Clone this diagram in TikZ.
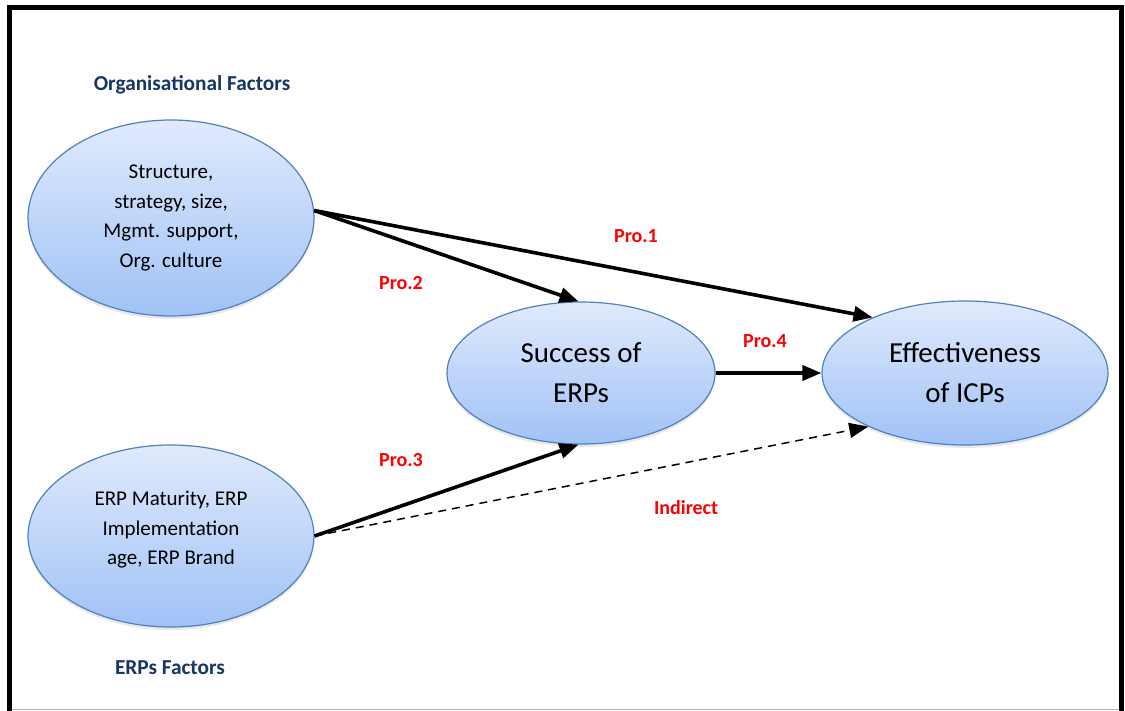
\documentclass[tikz,border=0pt]{standalone}
\usepackage{fontspec}
\setmainfont{Carlito}
\usetikzlibrary{shapes.geometric,arrows.meta,shadows}

\definecolor{ovalborder}{RGB}{79,129,189}
\definecolor{ovaltop}{RGB}{224,234,252}
\definecolor{ovalbottom}{RGB}{160,194,246}
\definecolor{headnavy}{RGB}{23,54,100}
\definecolor{prored}{RGB}{255,0,0}

\tikzset{
  oval/.style={ellipse, draw=ovalborder, line width=1.2pt, inner sep=0pt,
    top color=ovaltop, bottom color=ovalbottom, align=center,
    drop shadow={opacity=0.18, shadow xshift=0pt, shadow yshift=-3pt}},
  smalltext/.style={font=\fontsize{21}{29.5}\selectfont},
  bigtext/.style={font=\fontsize{29}{40}\selectfont},
  header/.style={font=\bfseries\fontsize{21.3}{25}\selectfont, text=headnavy},
  prolabel/.style={font=\bfseries\fontsize{20}{24}\selectfont, text=prored},
  link/.style={line width=3.6pt, -{Triangle[length=19pt,width=15pt]}},
  indirect/.style={line width=1.5pt, dash pattern=on 8pt off 6pt, -{Triangle[length=19pt,width=15pt]}}
}

\begin{document}
\begin{tikzpicture}[x=1pt,y=-1pt]
  \useasboundingbox (0,0) rectangle (1125,711);
  \fill[white] (0,0) rectangle (1125,711);

  % frame
  \draw[black!30, line width=1.2pt] (12,709.8) -- (1119,709.8);
  \draw[black, line width=5pt] (9.8,711) -- (9.8,7.5) -- (1121.5,7.5) -- (1121.5,711);

  % ovals
  \node[oval, minimum width=286pt, minimum height=196pt] (org) at (171,218) {};
  \node[smalltext, align=center] (orgtext) at (org.center) {Structure,\\strategy, size,\\Mgmt. support,\\Org. culture};

  \node[oval, minimum width=286pt, minimum height=182pt] (erp) at (171,536) {};
  \node[smalltext, align=center, yshift=6pt] (erptext) at (erp.center) {ERP Maturity, ERP\\Implementation\\age, ERP Brand};

  \node[oval, bigtext, minimum width=268pt, minimum height=142pt] (succ) at (581,373) {Success of\\ERPs};
  \node[oval, bigtext, minimum width=286pt, minimum height=144pt] (eff) at (965,373) {Effectiveness\\of ICPs};

  % group headings
  \node[header] (orghead) at (192,85) {Organisational Factors};
  \node[header] (erphead) at (170,668) {ERPs Factors};

  % relations
  \draw[link] (org.3) -- (eff.149);
  \draw[link] (org.3) -- (succ.92);
  \draw[link] (erp.east) -- (succ.268);
  \draw[indirect] (erp.east) -- (eff.209);
  \draw[link] (succ.east) -- (eff.west);

  % relation labels
  \node[prolabel] (p1) at (636,236) {Pro.1};
  \node[prolabel] (p2) at (401,283) {Pro.2};
  \node[prolabel] (p3) at (401,460) {Pro.3};
  \node[prolabel] (p4) at (765,341) {Pro.4};
  \node[prolabel] (pind) at (686,508) {Indirect};
\end{tikzpicture}
\end{document}
